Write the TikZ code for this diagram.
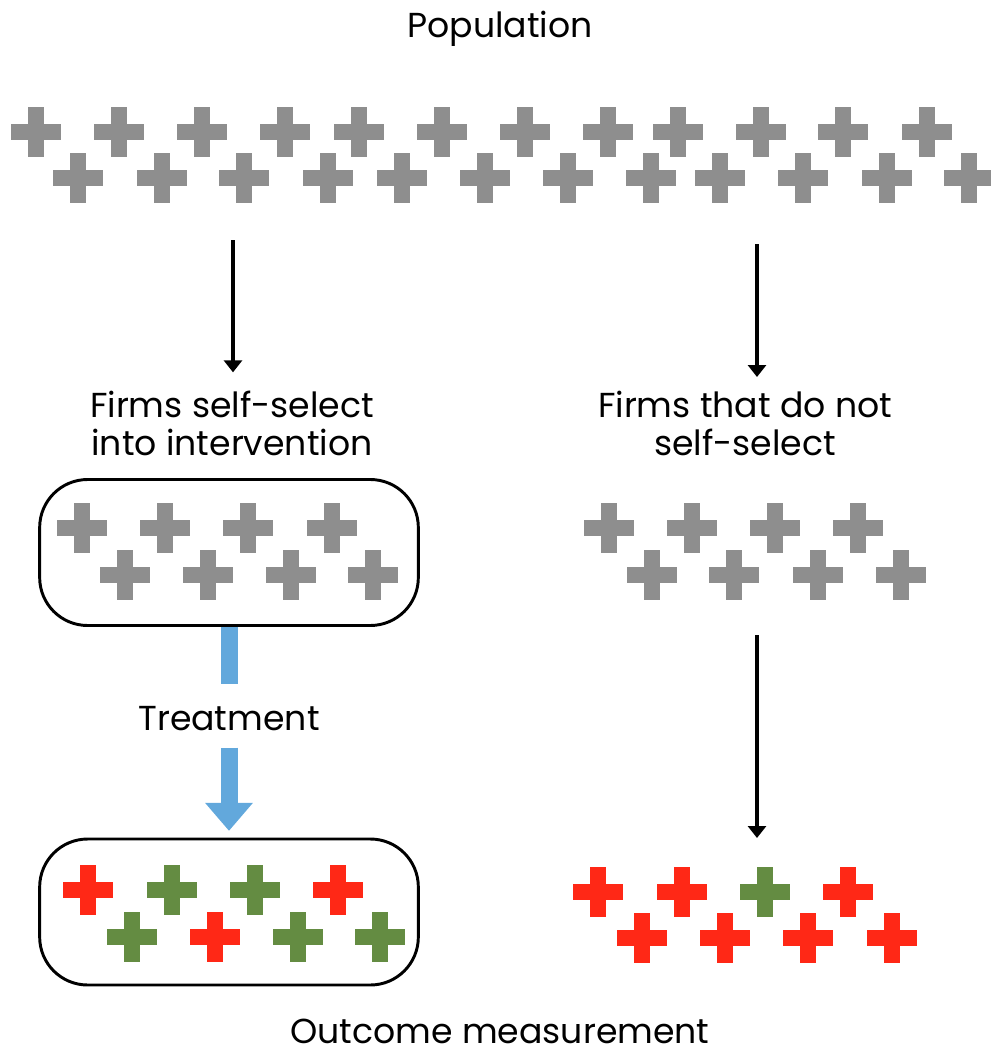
\documentclass[tikz,border=0pt]{standalone}
\usepackage{fontspec}
\setmainfont{Poppins}
\usetikzlibrary{arrows.meta}

\definecolor{popgray}{RGB}{142,142,142}
\definecolor{badred}{RGB}{255,40,22}
\definecolor{goodgreen}{RGB}{100,140,66}
\definecolor{treatblue}{RGB}{98,168,220}

\begin{document}
\begin{tikzpicture}[
    x=0.75pt, y=-0.75pt,
    plus/.pic={
        \fill (-25,-8.3) rectangle (25,8.3);
        \fill (-8.3,-25) rectangle (8.3,25);
    },
    lbl/.style={
        font=\fontsize{26}{28.5}\selectfont,
        align=center,
        inner sep=0pt
    },
    groupbox/.style={
        rectangle,
        rounded corners=36pt,
        draw=black,
        line width=2.2pt,
        minimum width=284pt,
        minimum height=109.5pt
    },
    flow/.style={
        -{Triangle[length=9pt,width=13.5pt]},
        line width=3pt
    },
    treat/.style={
        draw=treatblue,
        line width=12.75pt
    }
]
\useasboundingbox (0,0) rectangle (990,1057);

% ---- Population ----
\node[lbl, anchor=base] (popTxt) at (500,37) {Population};
\foreach \x in {36,119,202,285,359,442,525,608,678,761,843,927}
    \pic[popgray] at (\x,132) {plus};
\foreach \x in {78,162,244,328,402,485,568,651,720,803,887,969}
    \pic[popgray] at (\x,178) {plus};

% ---- Split: self-selection ----
\coordinate (popL) at (233,240);
\coordinate (popR) at (757,244);
\node[lbl, anchor=north] (selTxt)   at (232,391) {Firms self-select\\into intervention};
\node[lbl, anchor=north] (noselTxt) at (745,391) {Firms that do not\\self-select};
\draw[flow, shorten >=14pt]    (popL) -- (popL |- selTxt.north);
\draw[flow, shorten >=10.5pt] (popR) -- (popR |- noselTxt.north);

% ---- Groups before treatment ----
\node[groupbox] (selBox) at (229,552.5) {};
\foreach \x in {82,165,248,332}  \pic[popgray] at (\x,528) {plus};
\foreach \x in {125,208,291,373} \pic[popgray] at (\x,575) {plus};

\foreach \x in {609,692,775,858} \pic[popgray] at (\x,528) {plus};
\foreach \x in {652,734,818,901} \pic[popgray] at (\x,575) {plus};

% ---- Outcome groups ----
\node[groupbox] (outBox) at (229,912) {};

% ---- Treatment (left) and no treatment (right) ----
\node[lbl, anchor=base] (treatTxt) at (229,730) {Treatment};
\draw[treat, shorten >=16pt] (selBox.south) -- (treatTxt.north);
\draw[treat, -{Triangle[length=21pt,width=34.5pt]}, shorten <=12.75pt, shorten >=5pt]
    (treatTxt.south) -- (outBox.north);

\coordinate (ctrlTop) at (757,635);
\coordinate (ctrlEnd) at (757,838);
\draw[flow] (ctrlTop) -- (ctrlEnd);

% ---- Outcomes ----
\foreach \x/\c in {88/badred,172/goodgreen,255/goodgreen,338/badred}
    \pic[\c] at (\x,890) {plus};
\foreach \x/\c in {132/goodgreen,215/badred,298/goodgreen,380/goodgreen}
    \pic[\c] at (\x,937) {plus};

\foreach \x/\c in {598/badred,682/badred,765/goodgreen,848/badred}
    \pic[\c] at (\x,892) {plus};
\foreach \x in {642,725,808,892}
    \pic[badred] at (\x,938) {plus};

\node[lbl, anchor=base] (outTxt) at (500,1043) {Outcome measurement};

\end{tikzpicture}
\end{document}
